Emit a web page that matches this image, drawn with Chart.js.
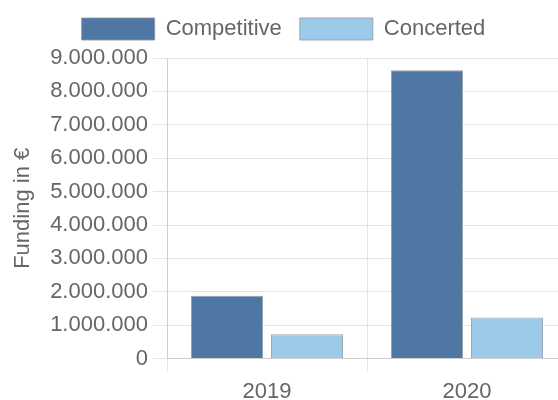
<!DOCTYPE html>
<html>
<head>
<meta charset="utf-8">
<script src="https://cdn.jsdelivr.net/npm/chart.js@4/dist/chart.umd.min.js"></script>
<style>
  html, body { margin: 0; padding: 0; overflow: hidden; background: #fff; }
  #wrap { width: 568px; height: 400px; }
</style>
</head>
<body>
<div id="wrap"><canvas id="chart-funding"></canvas></div>
<script>
// Values
const years = ['2019', '2020'];
const competitive = [1880000, 8630000];
const concerted = [730000, 1230000];
const yMax = 9000000;
const yStep = 1000000;

// German style thousands separator
const fmtEuro = v => String(Math.round(v)).replace(/\B(?=(\d{3})+(?!\d))/g, '.');

// Give the legend a bit more room below it
const legendGap = {
    id: 'legendGap',
    beforeInit(chart) {
        const fit = chart.legend.fit;
        chart.legend.fit = function () {
            fit.call(this);
            this.height += 8;
        };
    }
};

Chart.defaults.font.family = '"Liberation Sans", Arial, sans-serif';
Chart.defaults.font.size = 22;
Chart.defaults.color = '#666';

const ctx = document.getElementById('chart-funding').getContext('2d');
new Chart(ctx, {
    type: 'bar',
    data: {
        labels: years,
        datasets: [{
            label: 'Competitive',
            data: competitive,
            backgroundColor: '#4e77a4',
            borderColor: 'rgba(140,150,165,0.9)',
            borderWidth: 1,
            categoryPercentage: 0.8,
            barPercentage: 0.9
        }, {
            label: 'Concerted',
            data: concerted,
            backgroundColor: '#9ecae9',
            borderColor: 'rgba(150,160,170,0.9)',
            borderWidth: 1,
            categoryPercentage: 0.8,
            barPercentage: 0.9
        }]
    },
    options: {
        responsive: true,
        maintainAspectRatio: false,
        animation: false,
        layout: { padding: { left: 0, right: 1, top: 0, bottom: 2 } },
        plugins: {
            legend: {
                position: 'top',
                labels: { boxWidth: 73, boxHeight: 22, padding: 18 }
            },
            tooltip: { enabled: false }
        },
        scales: {
            x: {
                grid: { color: 'rgba(0,0,0,0.1)', tickLength: 13 },
                border: { color: 'rgba(0,0,0,0.1)' },
                ticks: { padding: 7 },
                afterFit: scale => { scale.height -= 14; }
            },
            y: {
                min: 0,
                max: yMax,
                grid: { color: 'rgba(0,0,0,0.1)', tickLength: 14 },
                border: { color: 'rgba(0,0,0,0.1)' },
                ticks: { stepSize: yStep, padding: 5, callback: v => fmtEuro(v) },
                title: { display: true, text: 'Funding in €', padding: { top: 10, bottom: 4 } },
                afterFit: scale => { scale.width = 167; }
            }
        }
    },
    plugins: [legendGap]
});
</script>
</body>
</html>
